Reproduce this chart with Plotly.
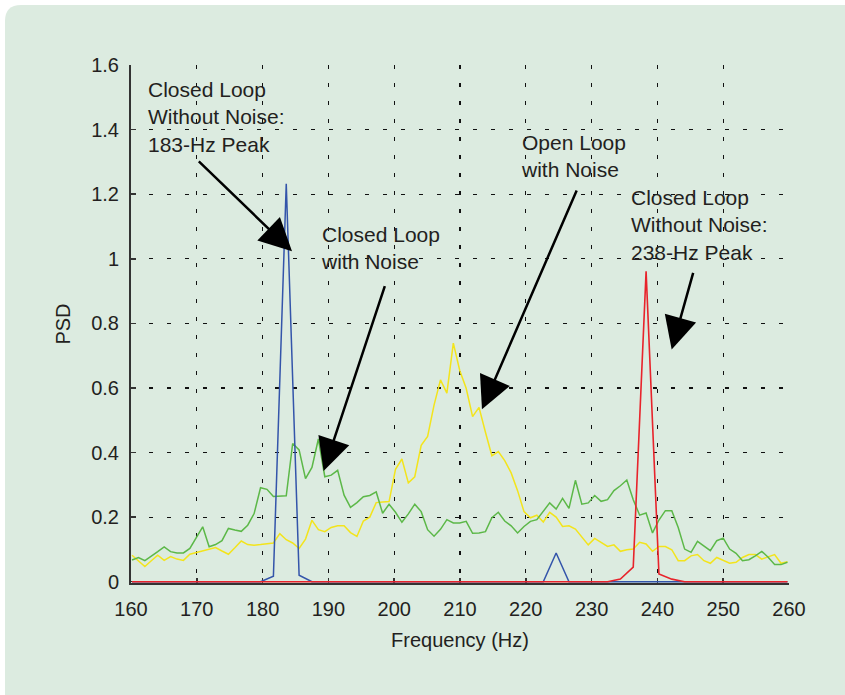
import plotly.graph_objects as go

# ---------------- data ----------------
FS_HZ = 1000.0
N_FINE = 1024      # noisy spectra: ~0.977 Hz bins
N_COARSE = 512     # noiseless spectra: ~1.953 Hz bins
fine_bins = list(range(164, 267))
coarse_bins = list(range(82, 134))
freq_fine = [k * FS_HZ / N_FINE for k in fine_bins]
freq_coarse = [k * FS_HZ / N_COARSE for k in coarse_bins]

# Open loop with noise (yellow)
psd_open_noise = [
    0.082, 0.065, 0.047, 0.065, 0.082, 0.066, 0.078, 0.070, 0.066, 0.085,
    0.090, 0.095, 0.100, 0.106, 0.095, 0.085, 0.105, 0.126, 0.115, 0.113,
    0.115, 0.118, 0.120, 0.149, 0.130, 0.120, 0.103, 0.132, 0.190, 0.161,
    0.155, 0.168, 0.173, 0.173, 0.152, 0.140, 0.188, 0.200, 0.245, 0.247,
    0.248, 0.348, 0.380, 0.306, 0.325, 0.422, 0.450, 0.547, 0.625, 0.584,
    0.739, 0.654, 0.599, 0.511, 0.540, 0.463, 0.390, 0.403, 0.375, 0.337,
    0.282, 0.217, 0.198, 0.206, 0.185, 0.215, 0.200, 0.171, 0.173, 0.163,
    0.140, 0.114, 0.134, 0.122, 0.109, 0.114, 0.094, 0.099, 0.101, 0.122,
    0.117, 0.094, 0.109, 0.109, 0.099, 0.065, 0.065, 0.080, 0.084, 0.065,
    0.057, 0.075, 0.067, 0.057, 0.060, 0.075, 0.084, 0.084, 0.070, 0.078,
    0.084, 0.057, 0.062,
]

# Closed loop with noise (green)
psd_closed_noise = [
    0.067, 0.075, 0.065, 0.078, 0.093, 0.108, 0.093, 0.089, 0.089, 0.103,
    0.135, 0.170, 0.108, 0.115, 0.127, 0.165, 0.160, 0.156, 0.175, 0.211,
    0.291, 0.286, 0.264, 0.266, 0.266, 0.428, 0.408, 0.319, 0.354, 0.442,
    0.325, 0.330, 0.345, 0.268, 0.230, 0.245, 0.263, 0.267, 0.278, 0.212,
    0.240, 0.215, 0.184, 0.210, 0.240, 0.217, 0.161, 0.141, 0.162, 0.192,
    0.182, 0.182, 0.187, 0.150, 0.151, 0.155, 0.198, 0.215, 0.188, 0.173,
    0.151, 0.171, 0.187, 0.192, 0.218, 0.244, 0.225, 0.258, 0.227, 0.314,
    0.240, 0.244, 0.267, 0.249, 0.254, 0.282, 0.297, 0.315, 0.254, 0.206,
    0.213, 0.151, 0.191, 0.220, 0.220, 0.168, 0.101, 0.091, 0.125, 0.110,
    0.096, 0.127, 0.135, 0.101, 0.088, 0.065, 0.068, 0.080, 0.094, 0.076,
    0.053, 0.053, 0.060,
]

# Closed loop without noise, 183-Hz peak (blue)
psd_closed_183 = [
    0, 0, 0, 0, 0, 0, 0, 0, 0, 0,
    0, 0.017, 1.232, 0.020, 0, 0, 0, 0, 0, 0,
    0, 0, 0, 0, 0, 0, 0, 0, 0, 0,
    0, 0, 0, 0.089, 0, 0, 0, 0, 0, 0,
    0, 0, 0, 0, 0, 0, 0, 0, 0, 0,
    0, 0,
]

# Closed loop without noise, 238-Hz peak (red)
psd_closed_238 = [
    0, 0, 0, 0, 0, 0, 0, 0, 0, 0,
    0, 0, 0, 0, 0, 0, 0, 0, 0, 0,
    0, 0, 0, 0, 0, 0, 0, 0, 0, 0,
    0, 0, 0, 0, 0, 0, 0, 0, 0.008, 0.045,
    0.961, 0.024, 0.008, 0, 0, 0, 0, 0, 0, 0,
    0, 0,
]

x_ticks = [160, 170, 180, 190, 200, 210, 220, 230, 240, 250, 260]
y_ticks = [0, 0.2, 0.4, 0.6, 0.8, 1.0, 1.2, 1.4, 1.6]
y_tick_text = ["0", "0.2", "0.4", "0.6", "0.8", "1", "1.2", "1.4", "1.6"]

# ---------------- styling ----------------
W, H = 845, 695
ML, MR, MT, MB = 131, 56, 65, 112
PW, PH = W - ML - MR, H - MT - MB
FONT = "Liberation Sans, Arial, Helvetica, sans-serif"
TXT = "#231f20"
PANEL = "#dcebe0"
PLOTBG = "#fefef4"


def px2paper_x(px):
    return (px - ML) / PW


def px2paper_y(py):
    return (H - MB - py) / PH


fig = go.Figure()
fig.add_trace(go.Scatter(x=freq_fine, y=psd_open_noise, mode="lines",
                         line=dict(color="#f3e41c", width=1.5),
                         name="Open Loop with Noise"))
fig.add_trace(go.Scatter(x=freq_fine, y=psd_closed_noise, mode="lines",
                         line=dict(color="#5cb848", width=1.5),
                         name="Closed Loop with Noise"))
fig.add_trace(go.Scatter(x=freq_coarse, y=psd_closed_183, mode="lines",
                         line=dict(color="#3354aa", width=1.5),
                         name="Closed Loop Without Noise (183 Hz)"))
fig.add_trace(go.Scatter(x=freq_coarse, y=psd_closed_238, mode="lines",
                         line=dict(color="#e8232b", width=1.6),
                         name="Closed Loop Without Noise (238 Hz)"))

# rounded green panel behind everything
x0, x1 = px2paper_x(5), px2paper_x(865)
y0, y1 = px2paper_y(715), px2paper_y(5)
rx, ry = 16 / PW, 16 / PH
path = (f"M{x0 + rx},{y1} L{x1 - rx},{y1} Q{x1},{y1} {x1},{y1 - ry} "
        f"L{x1},{y0 + ry} Q{x1},{y0} {x1 - rx},{y0} L{x0 + rx},{y0} "
        f"Q{x0},{y0} {x0},{y0 + ry} L{x0},{y1 - ry} Q{x0},{y1} {x0 + rx},{y1} Z")
fig.add_shape(type="path", path=path, xref="paper", yref="paper",
              fillcolor=PANEL, line=dict(width=0), layer="below")

# text labels
labels = [
    (162.23, 1.440, "Closed Loop<br>Without Noise:<br>183-Hz Peak"),
    (188.62, 1.033, "Closed Loop<br>with Noise"),
    (218.97, 1.318, "Open Loop<br>with Noise"),
    (235.63, 1.104, "Closed Loop<br>Without Noise:<br>238-Hz Peak"),
]
for lx, ly, t in labels:
    fig.add_annotation(x=lx, y=ly, xref="x", yref="y", text=t,
                       showarrow=False, xanchor="left", yanchor="middle",
                       align="left", font=dict(family=FONT, size=21, color=TXT))

# arrows (tip, tail)
arrows = [
    ((184.47, 1.023), (170.08, 1.306)),
    ((189.27, 0.343), (198.65, 0.920)),
    ((213.34, 0.534), (227.83, 1.216)),
    ((242.17, 0.719), (245.50, 0.961)),
]
for (tx, ty), (sx, sy) in arrows:
    fig.add_annotation(x=tx, y=ty, ax=sx, ay=sy, xref="x", yref="y",
                       axref="x", ayref="y", text="", showarrow=True,
                       arrowhead=2, arrowsize=2.6, arrowwidth=2.5,
                       arrowcolor="black")

fig.update_layout(
    width=W, height=H,
    margin=dict(l=ML, r=MR, t=MT, b=MB, pad=0),
    paper_bgcolor="white",
    plot_bgcolor=PLOTBG,
    showlegend=False,
    hovermode=False,
    font=dict(family=FONT, size=20, color=TXT),
)
fig.update_xaxes(
    range=[160, 260], tickvals=x_ticks,
    ticks="inside", ticklen=5, tickcolor="#333333", tickwidth=1.5,
    ticklabelstandoff=7,
    showline=True, linecolor="#333333", linewidth=2,
    showgrid=True, gridcolor="#111111", gridwidth=1.2, griddash="4px,14px",
    zeroline=False, layer="below traces",
    title=dict(text="Frequency (Hz)", standoff=14,
               font=dict(family=FONT, size=20, color=TXT)),
    tickfont=dict(family=FONT, size=20, color=TXT),
)
fig.update_yaxes(
    range=[-0.004, 1.6], tickvals=y_ticks, ticktext=y_tick_text,
    ticks="inside", ticklen=5, tickcolor="#333333", tickwidth=1.5,
    ticklabelstandoff=6,
    showline=True, linecolor="#333333", linewidth=2,
    showgrid=True, gridcolor="#111111", gridwidth=1.2, griddash="4px,14px",
    zeroline=False, layer="below traces",
    title=dict(text="PSD", standoff=15,
               font=dict(family=FONT, size=20, color=TXT)),
    tickfont=dict(family=FONT, size=20, color=TXT),
)

fig.write_html(
    "out.html",
    include_plotlyjs=True,
    config={"displayModeBar": False, "staticPlot": True},
    post_script="document.body.style.margin='0';"
                "document.body.style.padding='0';"
                "document.body.style.overflow='hidden';",
)
